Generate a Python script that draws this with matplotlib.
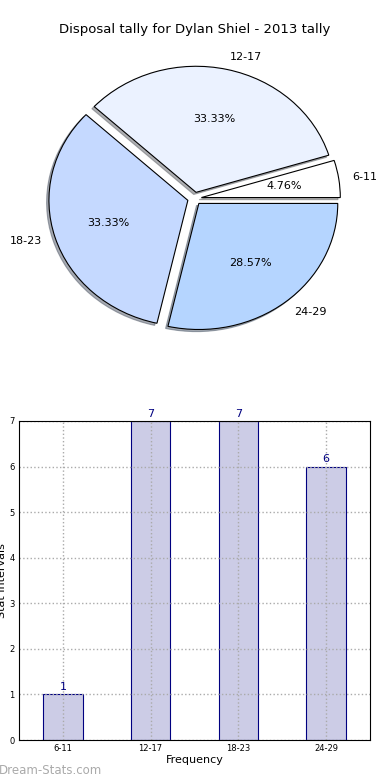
import numpy as np
import matplotlib
matplotlib.use('Agg')
import matplotlib.pyplot as plt

### Data ###
intervals = ['6-11', '12-17', '18-23', '24-29']
counts = [1, 7, 7, 6]
pie_colors = ['#ffffff', '#ebf2ff', '#c5d9ff', '#b5d5ff']

### Figure ###
fig = plt.figure(figsize=(3.9, 7.8), dpi=100)

# pie on top (old style, not forced to a circle)
ax1 = fig.add_axes([0.0, 405/780, 389/390, 353/780])
ax1.pie(counts, labels=intervals, colors=pie_colors, autopct='%1.2f%%',
        explode=[0.05] * 4, shadow={'ox': -0.012, 'oy': -0.012, 'shade': 0.6},
        startangle=0,
        wedgeprops={'linewidth': 0.8, 'edgecolor': 'black'},
        textprops={'fontsize': 8})
ax1.set_xlim(-1.4, 1.4)
ax1.set_ylim(-1.4, 1.4)
ax1.set_aspect('auto')
fig.text(0.5, 1 - 30/780, 'Disposal tally for Dylan Shiel - 2013 tally',
         ha='center', va='center', fontsize=9.5)

# bars below
ax2 = fig.add_axes([19/390, 40/780, 351/390, 319/780])
x = np.arange(len(intervals))
bars = ax2.bar(x, counts, width=0.45, color='#cccce6', edgecolor='#000080', linewidth=0.8)
for b, c in zip(bars, counts):
    ax2.text(b.get_x() + b.get_width() / 2, c + 0.05, str(c),
             ha='center', va='bottom', color='#000080', fontsize=8)
ax2.set_xlim(-0.5, 3.5)
ax2.set_ylim(0, 7)
ax2.set_xticks(x)
ax2.set_xticklabels(intervals)
ax2.tick_params(labelsize=6, length=0, pad=3)
ax2.grid(True, linestyle=':', color='#aaaaaa', linewidth=1)
ax2.set_axisbelow(False)
for sp in ax2.spines.values():
    sp.set_zorder(3)
ax2.set_xlabel('Frequency', fontsize=8, labelpad=1)
ax2.set_ylabel('Stat Intervals', fontsize=8, labelpad=2)
ax2.yaxis.set_label_coords(-0.035, 0.5)

fig.text(-0.003, 1 - 770/780, 'Dream-Stats.com', ha='left', va='center',
         fontsize=8.5, color='#aaaaaa')

fig.savefig('out.png', dpi=100)
